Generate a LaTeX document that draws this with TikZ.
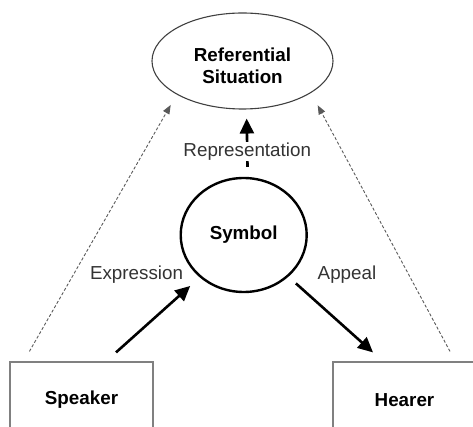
\documentclass[tikz,border=0pt]{standalone}
\usepackage{fontspec}
\setmainfont{Liberation Sans}
\usetikzlibrary{arrows.meta,positioning,calc,shapes.geometric}

\begin{document}
\begin{tikzpicture}[x=1pt,y=-1pt,
  lbl/.style={font=\fontsize{18.8}{21.6}\selectfont,text=black!80},
  ttl/.style={font=\fontsize{18.8}{21.6}\selectfont\bfseries,align=center,inner sep=0pt},
  agent/.style={ttl,draw=black!50,line width=1.2pt,minimum width=143pt,minimum height=76pt},
  arr/.style={-{Triangle[length=15pt,width=14pt]},line width=2.6pt},
  dsh/.style={-{Triangle[length=9pt,width=7pt]},draw=black!65,line width=0.9pt,
     dash pattern=on 3pt off 2pt}]
\useasboundingbox (0,0) rectangle (473,427);
\node[ttl,ellipse,draw=black!75,line width=1.1pt,minimum width=181pt,minimum height=96pt] (ref) at (242.5,61) {\rule{0pt}{23pt}Referential\\Situation};
\node[ttl,ellipse,draw,line width=2.4pt,minimum width=126pt,minimum height=114pt] (sym) at (243.7,235) {Symbol};
\node[agent] (spk) at (81.5,400) {Speaker};
\node[agent] (hrr) at (404.5,400) {Hearer};
\node[lbl] (expr) at (136.5,275) {Expression};
\node[lbl] (appl) at (347,275) {Appeal};
\draw[arr,shorten <=10pt,shorten >=9pt] ([xshift=4pt]sym.north) -- ([xshift=4pt]ref.south)
  node[lbl,fill=white,pos=0.377,inner sep=1pt] (repr) {Representation};
\draw[arr,shorten >=12.8pt] ([xshift=34.5pt,yshift=9pt]spk.north) -- (sym.224);
\draw[arr,shorten <=10pt] (sym.317) -- ([xshift=-31.5pt,yshift=9pt]hrr.north);
\draw[dsh,shorten >=12pt] ([xshift=20pt,yshift=10pt]spk.north west) -- (ref.207);
\draw[dsh,shorten >=14pt] ([xshift=45.5pt,yshift=10pt]hrr.north) -- (ref.335);
\end{tikzpicture}
\end{document}
